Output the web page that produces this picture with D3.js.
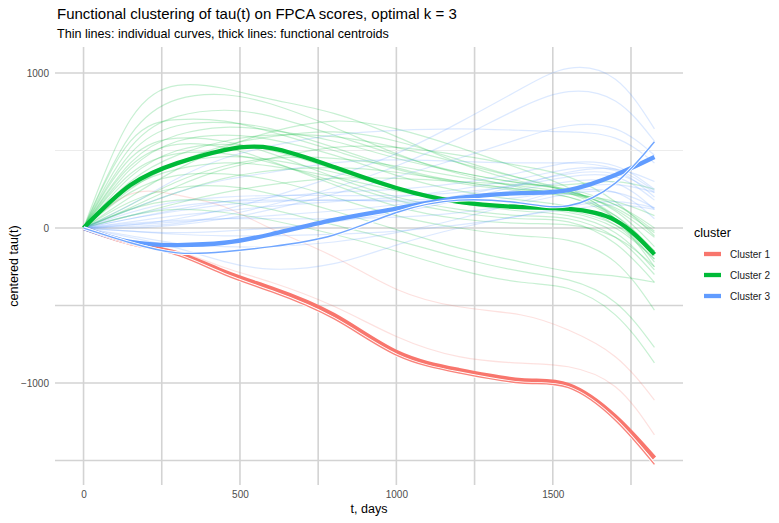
<!DOCTYPE html>
<html>
<head>
<meta charset="utf-8">
<script src="https://cdn.jsdelivr.net/npm/d3@7"></script>
<style>
  body { margin: 0; background: #ffffff; }
  svg text { font-family: "Liberation Sans", Arial, Helvetica, sans-serif; }
</style>
</head>
<body>
<div id="chart"></div>
<script>
// time grid shared by every curve (days)
const tGrid = [0, 150, 300, 450, 600, 800, 1000, 1200, 1400, 1550, 1700, 1825];

const xTicks = [0, 500, 1000, 1500];
const xMinor = [250, 750, 1250, 1750];
const yTicks = [1000, 0, -1000];
const yMinor = [500, -500, -1500];

const clusterNames = ['Cluster 1', 'Cluster 2', 'Cluster 3'];
const clusterColors = ['#F8766D', '#00BA38', '#619CFF'];

// thin individual curves, cluster 1
const cluster1Curves = [
    [0, 219, 213, 137, -5, -185, -395, -508, -561, -658, -830, -1110],
    [0, -90, -150, -255, -350, -505, -700, -830, -872, -895, -1024, -1335]
];

// thin individual curves, cluster 2
const cluster2Curves = [
    [0, 700, 920, 900, 830, 740, 590, 420, 300, 240, 110, -120],
    [0, 600, 830, 860, 800, 650, 480, 350, 260, 200, 60, -180],
    [0, 520, 720, 760, 720, 600, 470, 360, 290, 240, 120, -60],
    [0, 560, 700, 690, 620, 500, 380, 290, 240, 200, 80, -150],
    [0, 480, 660, 680, 640, 520, 390, 300, 250, 220, 130, -30],
    [0, 420, 600, 650, 630, 560, 450, 360, 290, 250, 150, -20],
    [0, 380, 560, 600, 570, 470, 340, 240, 180, 140, 20, -200],
    [0, 300, 470, 560, 600, 590, 520, 420, 320, 240, 80, -150],
    [0, 250, 420, 530, 590, 620, 560, 440, 320, 230, 60, -220],
    [0, 200, 380, 520, 620, 690, 640, 520, 380, 260, 60, -250],
    [0, 330, 500, 540, 500, 380, 250, 160, 110, 80, -30, -270],
    [0, 280, 420, 460, 440, 360, 260, 180, 130, 100, 0, -200],
    [0, 450, 580, 560, 480, 330, 200, 120, 80, 60, -60, -300],
    [0, 350, 480, 480, 420, 300, 180, 100, 60, 40, -100, -350],
    [0, 150, 300, 400, 450, 450, 400, 330, 270, 230, 150, 0],
    [0, 120, 230, 320, 370, 390, 360, 300, 250, 220, 170, 80],
    [0, 230, 340, 350, 310, 200, 80, 0, -50, -80, -220, -530],
    [0, 170, 260, 270, 220, 110, -10, -130, -220, -280, -310, -350],
    [0, 120, 180, 170, 120, 20, -80, -190, -280, -335, -480, -770],
    [0, 80, 120, 100, 50, -40, -150, -270, -350, -390, -560, -870],
    [0, 80, 160, 230, 280, 320, 320, 300, 280, 280, 300, 250],
    [0, 400, 540, 520, 430, 280, 140, 60, 30, 20, -60, -250],
    [0, 260, 380, 420, 400, 330, 240, 170, 130, 110, 20, -150],
    [0, 130, 270, 380, 450, 520, 520, 470, 400, 330, 170, -50]
];

// thin individual curves, cluster 3
const cluster3Curves = [
    [0, 20, 60, 120, 200, 330, 480, 680, 900, 1030, 960, 640],
    [0, 10, 30, 80, 150, 260, 400, 580, 780, 880, 820, 560],
    [0, 150, 320, 450, 530, 600, 630, 640, 630, 620, 580, 420],
    [0, 0, 20, 60, 120, 220, 330, 450, 580, 660, 640, 470],
    [0, 60, 120, 170, 200, 230, 250, 290, 360, 420, 400, 250],
    [0, 40, 80, 110, 140, 170, 200, 250, 320, 380, 370, 200],
    [0, 100, 170, 200, 210, 210, 210, 230, 280, 330, 330, 180],
    [0, 80, 140, 170, 180, 180, 180, 200, 250, 300, 290, 120],
    [0, 20, 40, 60, 80, 110, 150, 210, 290, 350, 350, 230],
    [0, -20, -30, -20, 0, 40, 100, 180, 280, 360, 380, 300],
    [0, -50, -100, -120, -120, -90, -30, 60, 170, 250, 280, 230],
    [0, -60, -130, -217, -265, -230, -110, 0, 80, 120, 150, 120],
    [0, 30, 50, 60, 60, 60, 70, 100, 160, 220, 230, 130],
    [0, 60, 110, 150, 170, 180, 170, 170, 200, 240, 230, 60],
    [0, -20, -40, -50, -50, -40, -20, 20, 80, 140, 170, 130],
    [0, 120, 230, 310, 360, 420, 440, 430, 420, 420, 380, 240]
];

// darker member curves lying next to the centroids
const cluster1Near = [0, -100, -175, -300, -410, -585, -820, -935, -1000, -1030, -1240, -1525];
const cluster3Near = [0, -95, -160, -153, -120, -45, 100, 180, 161, 144, 290, 557];

// functional centroids
const centroid1 = [0, -97, -163, -282, -389, -561, -800, -916, -981, -1013, -1217, -1484];
const centroid2 = [0, 277, 419, 503, 516, 394, 258, 168, 135, 123, 50, -170];
const centroid3 = [0, -90, -110, -95, -40, 52, 125, 194, 225, 245, 342, 458];

const W = 779, H = 523;
const panel = { left: 55, right: 683, top: 47, bottom: 485 };

const svg = d3.select('#chart').append('svg')
    .attr('width', W)
    .attr('height', H);

const xScale = d3.scaleLinear().domain([-91.25, 1916.25]).range([panel.left, panel.right]);
const yScale = d3.scaleLinear().domain([-1658, 1168]).range([panel.bottom, panel.top]);

// grid
const grid = svg.append('g').attr('class', 'grid');
grid.selectAll('.vgrid')
    .data(xTicks.concat(xMinor))
    .join('line')
    .attr('x1', d => xScale(d)).attr('x2', d => xScale(d))
    .attr('y1', panel.top).attr('y2', panel.bottom)
    .attr('stroke', '#d3d3d3')
    .attr('stroke-width', 1.6);

grid.selectAll('.hgrid')
    .data(yTicks.concat(yMinor))
    .join('line')
    .attr('x1', panel.left).attr('x2', panel.right)
    .attr('y1', d => yScale(d)).attr('y2', d => yScale(d))
    .attr('stroke', d => d === 500 ? '#ececec' : '#d3d3d3')
    .attr('stroke-width', d => d === 500 ? 1 : 1.6);

// axes (text only, ggplot minimal style)
const xAxis = d3.axisBottom(xScale).tickValues(xTicks).tickFormat(d3.format('d')).tickSize(0).tickPadding(0);
const yAxis = d3.axisLeft(yScale).tickValues(yTicks).tickFormat(d3.format('d')).tickSize(0).tickPadding(0);

svg.append('g')
    .attr('class', 'axis x-axis')
    .attr('transform', `translate(0,${panel.bottom + 6})`)
    .call(xAxis)
    .call(g => g.select('.domain').remove())
    .selectAll('text')
    .attr('fill', '#4d4d4d')
    .attr('font-size', 10)
    .attr('dy', '0.71em');

svg.append('g')
    .attr('class', 'axis y-axis')
    .attr('transform', `translate(${panel.left - 6},0)`)
    .call(yAxis)
    .call(g => g.select('.domain').remove())
    .selectAll('text')
    .attr('fill', '#4d4d4d')
    .attr('font-size', 10);

const line = d3.line()
    .x((d, i) => xScale(tGrid[i]))
    .y(d => yScale(d))
    .curve(d3.curveNatural);

const thinSets = [cluster1Curves, cluster2Curves, cluster3Curves];
thinSets.forEach((set, k) => {
    svg.append('g')
        .selectAll('path')
        .data(set)
        .join('path')
        .attr('d', line)
        .attr('fill', 'none')
        .attr('stroke', clusterColors[k])
        .attr('stroke-opacity', 0.22)
        .attr('stroke-width', 1.2);
});

const centroids = [centroid1, centroid2, centroid3];
svg.append('g')
    .selectAll('path')
    .data(centroids)
    .join('path')
    .attr('d', line)
    .attr('fill', 'none')
    .attr('stroke', (d, i) => clusterColors[i])
    .attr('stroke-width', 4.3)
    .attr('stroke-linecap', 'butt');

// near-centroid members, with white halo
const nearCurves = [
    { values: cluster1Near, color: clusterColors[0] },
    { values: cluster3Near, color: clusterColors[2] }
];
nearCurves.forEach(c => {
    svg.append('path')
        .attr('d', line(c.values))
        .attr('fill', 'none')
        .attr('stroke', '#ffffff')
        .attr('stroke-width', 3.2);
    svg.append('path')
        .attr('d', line(c.values))
        .attr('fill', 'none')
        .attr('stroke', c.color)
        .attr('stroke-opacity', 0.9)
        .attr('stroke-width', 1.4);
});

// titles
svg.append('text')
    .attr('x', 57).attr('y', 19)
    .attr('font-size', 15)
    .attr('fill', '#000000')
    .text('Functional clustering of tau(t) on FPCA scores, optimal k = 3');

svg.append('text')
    .attr('x', 57).attr('y', 38)
    .attr('font-size', 12.6)
    .attr('fill', '#000000')
    .text('Thin lines: individual curves, thick lines: functional centroids');

svg.append('text')
    .attr('x', (panel.left + panel.right) / 2).attr('y', 513)
    .attr('text-anchor', 'middle')
    .attr('font-size', 12.5)
    .attr('fill', '#000000')
    .text('t, days');

svg.append('text')
    .attr('transform', `translate(18,${(panel.top + panel.bottom) / 2}) rotate(-90)`)
    .attr('text-anchor', 'middle')
    .attr('font-size', 12.5)
    .attr('fill', '#000000')
    .text('centered tau(t)');

// legend
const legend = svg.append('g').attr('transform', 'translate(694,0)');
legend.append('text')
    .attr('x', 0).attr('y', 237)
    .attr('font-size', 12.5)
    .attr('fill', '#000000')
    .text('cluster');

const keys = legend.selectAll('.key')
    .data(clusterNames)
    .join('g')
    .attr('class', 'key')
    .attr('transform', (d, i) => `translate(0,${254 + i * 21})`);

keys.append('line')
    .attr('x1', 10).attr('x2', 27)
    .attr('y1', 0).attr('y2', 0)
    .attr('stroke', (d, i) => clusterColors[i])
    .attr('stroke-width', 4.3);

keys.append('text')
    .attr('x', 36).attr('y', 0)
    .attr('dy', '0.35em')
    .attr('font-size', 10)
    .attr('fill', '#1a1a1a')
    .text(d => d);
</script>
</body>
</html>
